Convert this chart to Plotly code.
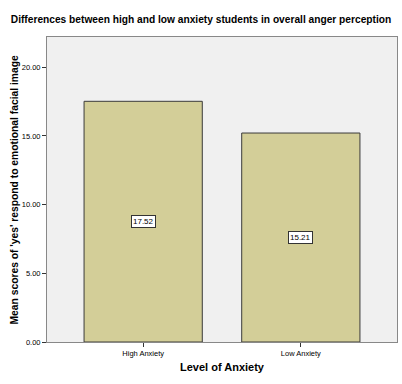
import plotly.graph_objects as go

categories = ["High Anxiety", "Low Anxiety"]
means = [17.52, 15.21]
y_ticks = [0, 5, 10, 15, 20]
y_tick_labels = ["0.00", "5.00", "10.00", "15.00", "20.00"]

fig = go.Figure()
fig.add_trace(go.Bar(
    x=list(range(len(categories))), y=means,
    width=0.75,
    marker=dict(color="#d3ce98", line=dict(color="#3a3a3a", width=1)),
    hoverinfo="skip",
))

for i, v in enumerate(means):
    fig.add_annotation(
        x=i, y=v / 2, text=f"{v:.2f}", showarrow=False,
        font=dict(family="Arial, Liberation Sans", size=8, color="black"),
        bgcolor="white", bordercolor="#333333", borderwidth=1, borderpad=1,
    )

# y-axis title placed as rotated text
fig.add_annotation(
    xref="paper", yref="paper", x=(14 - 47) / 350, y=0.5,
    xanchor="center", yanchor="middle", textangle=-90, showarrow=False,
    text="<b>Mean scores of 'yes' respond to emotional facial image</b>",
    font=dict(family="Arial, Liberation Sans", size=10.3, color="black"),
)

fig.update_layout(
    width=402, height=384,
    margin=dict(l=47, r=5, t=37, b=42),
    paper_bgcolor="white", plot_bgcolor="#f0f0f0",
    showlegend=False,
    title=dict(text="<b>Differences between high and low anxiety students in overall anger perception</b>",
               x=0.5, xanchor="center", y=1 - 19 / 384, yanchor="middle",
               font=dict(family="Arial, Liberation Sans", size=10.2, color="black")),
    font=dict(family="Arial, Liberation Sans", color="black"),
)
fig.update_xaxes(
    tickmode="array", tickvals=list(range(len(categories))), ticktext=categories,
    range=[-0.61, 1.61], automargin=False,
    ticks="outside", ticklen=4, tickcolor="#333333",
    tickfont=dict(size=7.5),
    showline=True, linecolor="#888888", linewidth=1, mirror=True,
    showgrid=False, zeroline=False,
    title=dict(text="<b>Level of Anxiety</b>", font=dict(size=11), standoff=6),
)
fig.update_yaxes(
    tickmode="array", tickvals=y_ticks, ticktext=y_tick_labels,
    range=[0, 22.2], automargin=False,
    ticks="outside", ticklen=4, tickcolor="#333333",
    tickfont=dict(size=7.5),
    showline=True, linecolor="#888888", linewidth=1, mirror=True,
    showgrid=False, zeroline=False,
)

fig.write_html("out.html", config={"displayModeBar": False},
               post_script="document.body.style.margin='0';")
